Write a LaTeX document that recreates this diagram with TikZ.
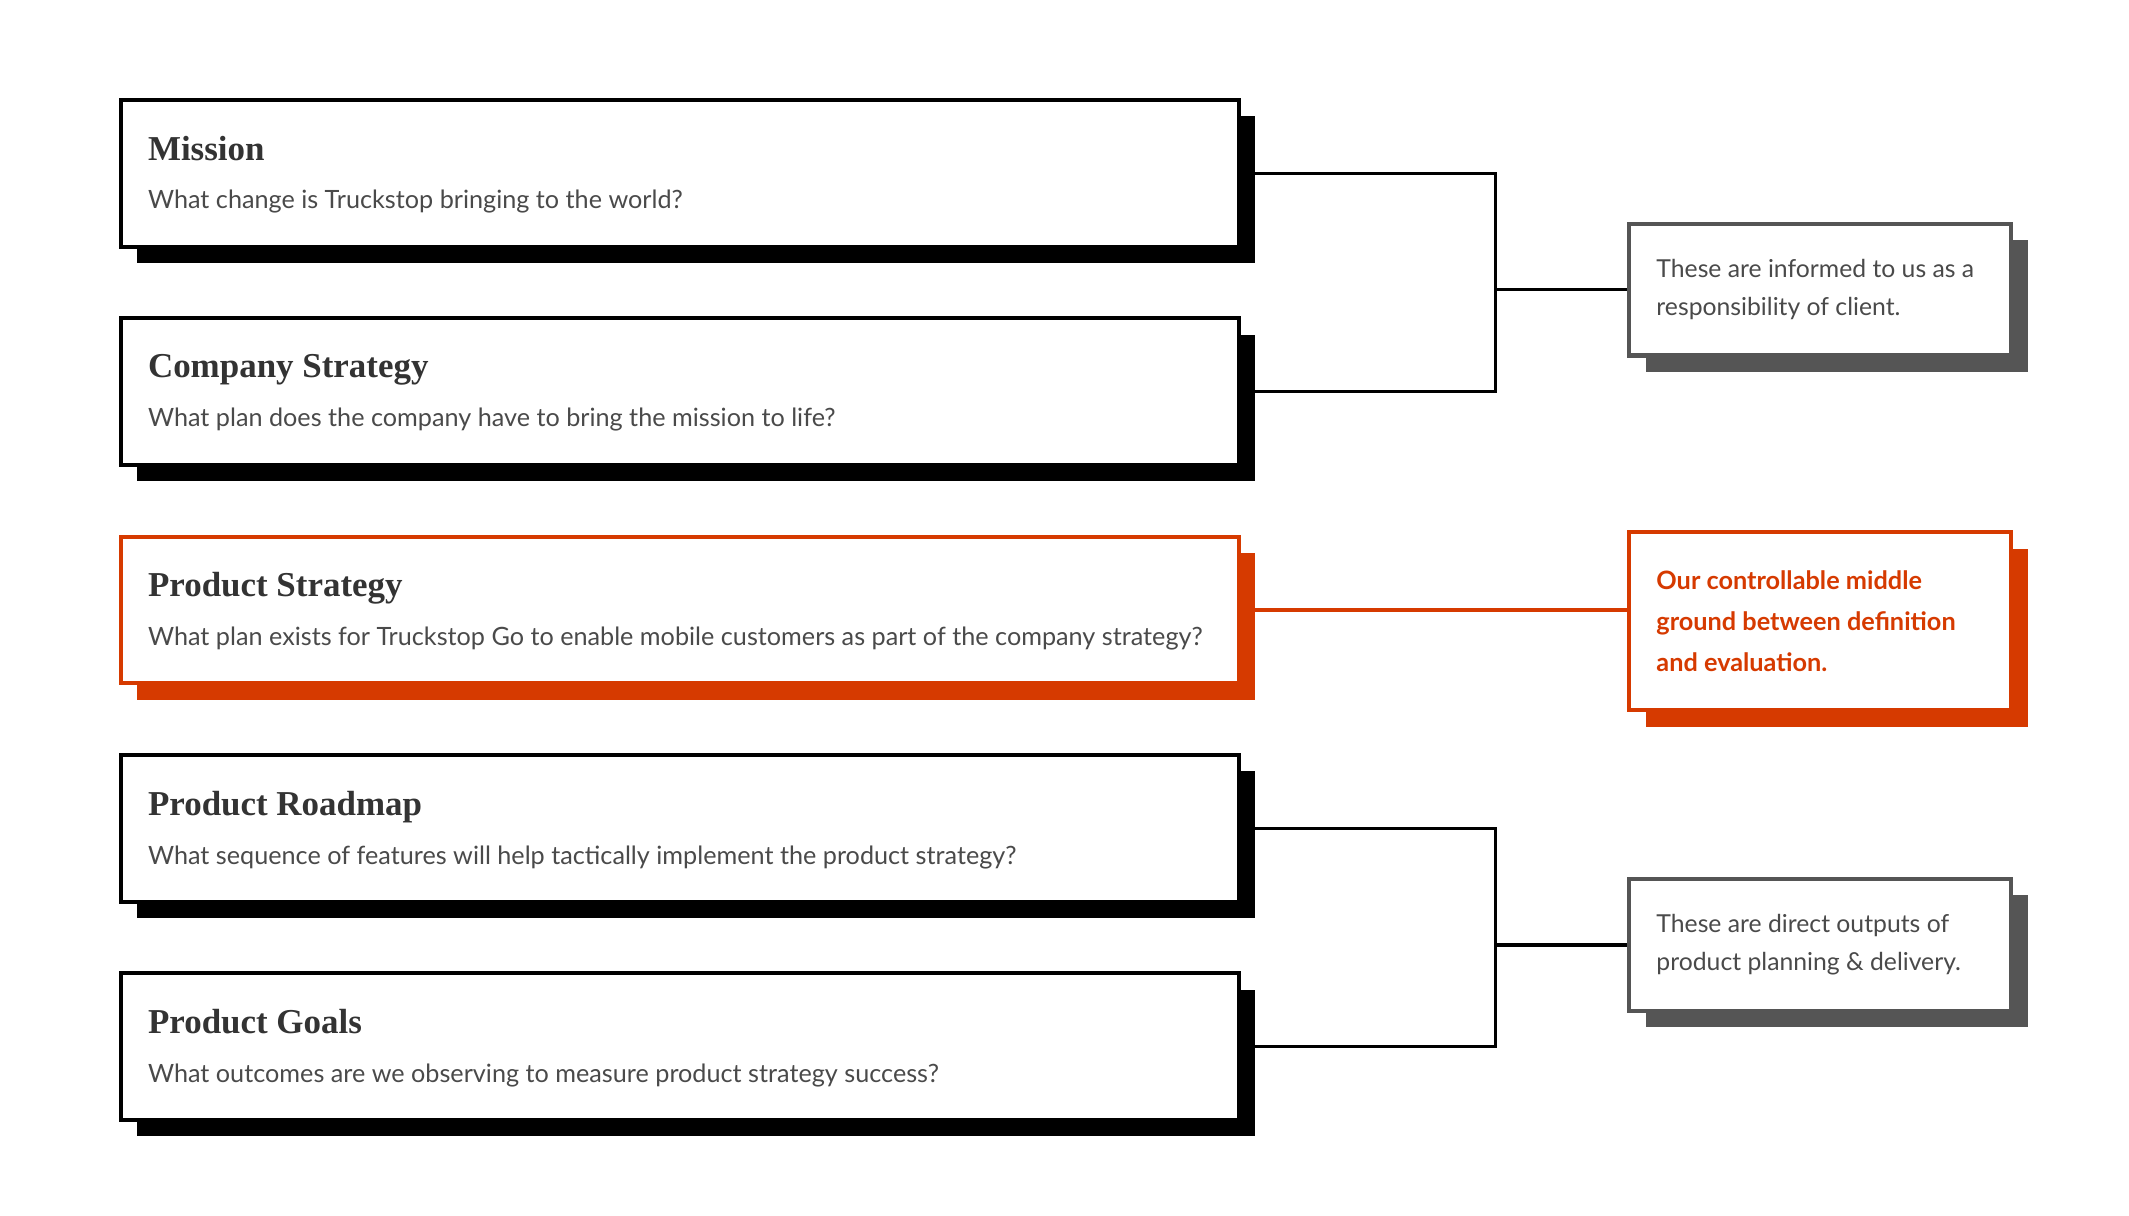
\documentclass[tikz,border=0pt]{standalone}
\usepackage{fontspec}
\usepackage{tikz}
\usetikzlibrary{shadows}

\newfontfamily\headserif{Liberation Serif}
\newfontfamily\bodysans{Lato}

\definecolor{ink}{HTML}{333333}
\definecolor{bodygrey}{HTML}{4A4A4A}
\definecolor{boxgrey}{HTML}{555555}
\definecolor{rust}{HTML}{D63A00}

\newcommand{\cardtitle}[1]{{\headserif\bfseries\fontsize{12.85}{15}\selectfont\color{ink}#1}}

\tikzset{
  card/.style={draw=black, line width=1.5pt, fill=white, inner sep=0pt,
    minimum width=411pt, minimum height=54pt,
    general shadow={fill=black, shadow xshift=6pt, shadow yshift=-6pt}},
  redcard/.style={card, draw=rust, general shadow={fill=rust, shadow xshift=6pt, shadow yshift=-6pt}},
  cardtext/.style={anchor=west, align=left, inner sep=0pt, text=bodygrey,
    font=\bodysans\fontsize{9.27}{18}\selectfont},
  note/.style={draw=boxgrey, line width=1.5pt, fill=white, inner sep=0pt,
    minimum width=140.5pt, minimum height=48.5pt,
    general shadow={fill=boxgrey, shadow xshift=6pt, shadow yshift=-6pt}},
  rednote/.style={note, draw=rust, minimum height=65.5pt,
    general shadow={fill=rust, shadow xshift=6pt, shadow yshift=-6pt}},
  notetext/.style={anchor=west, align=left, inner sep=0pt, text=bodygrey,
    font=\bodysans\fontsize{9.1}{14}\selectfont},
  link/.style={line width=1.25pt, draw=black}
}

\begin{document}
\begin{tikzpicture}[x=0.5pt, y=-0.5pt]
    \useasboundingbox (0,-1) rectangle (1566,893.4);

    % Left column: the five levels
    \node[card] (mis) at (500,126.5) {};
    \node[cardtext] (mis-t) at ([xshift=10.5pt,yshift=-0.5pt]mis.west)
        {\cardtitle{Mission}\\What change is Truckstop bringing to the world?};

    \node[card] (cst) at (500,287.1) {};
    \node[cardtext] (cst-t) at ([xshift=10.5pt,yshift=-0.5pt]cst.west)
        {\cardtitle{Company Strategy}\\What plan does the company have to bring the mission to life?};

    \node[redcard] (pst) at (500,447.7) {};
    \node[cardtext] (pst-t) at ([xshift=10.5pt,yshift=-0.5pt]pst.west)
        {\cardtitle{Product Strategy}\\What plan exists for Truckstop Go to enable mobile customers as part of the company strategy?};

    \node[card] (prm) at (500,608.3) {};
    \node[cardtext] (prm-t) at ([xshift=10.5pt,yshift=-0.5pt]prm.west)
        {\cardtitle{Product Roadmap}\\What sequence of features will help tactically implement the product strategy?};

    \node[card] (pgl) at (500,768.9) {};
    \node[cardtext] (pgl-t) at ([xshift=10.5pt,yshift=-0.5pt]pgl.west)
        {\cardtitle{Product Goals}\\What outcomes are we observing to measure product strategy success?};

    % Right column: the notes
    \node[note] (inf) at (1339,212) {};
    \node[notetext] (inf-t) at ([xshift=10.5pt]inf.west)
        {These are informed to us as a\\responsibility of client.};

    \node[rednote] (mid) at (1339,456) {};
    \node[notetext, text=rust, font=\bodysans\bfseries\fontsize{9.3}{15}\selectfont] (mid-t) at ([xshift=10.5pt]mid.west)
        {Our controllable middle\\ground between definition\\and evaluation.};

    \node[note] (out) at (1339,694) {};
    \node[notetext] (out-t) at ([xshift=10.5pt]out.west)
        {These are direct outputs of\\product planning \& delivery.};

    % Brackets
    \coordinate (jtop) at (1100,212);
    \coordinate (jbot) at (1100,694);
    \draw[link] (mis.east) -| (jtop) |- (cst.east);
    \draw[link] (jtop) -- (inf.west);
    \draw[link] (prm.east) -| (jbot) |- (pgl.east);
    \draw[link] (jbot) -- (out.west);
    \draw[link, draw=rust] (pst.east) -- (pst.east -| mid.west);
\end{tikzpicture}
\end{document}
